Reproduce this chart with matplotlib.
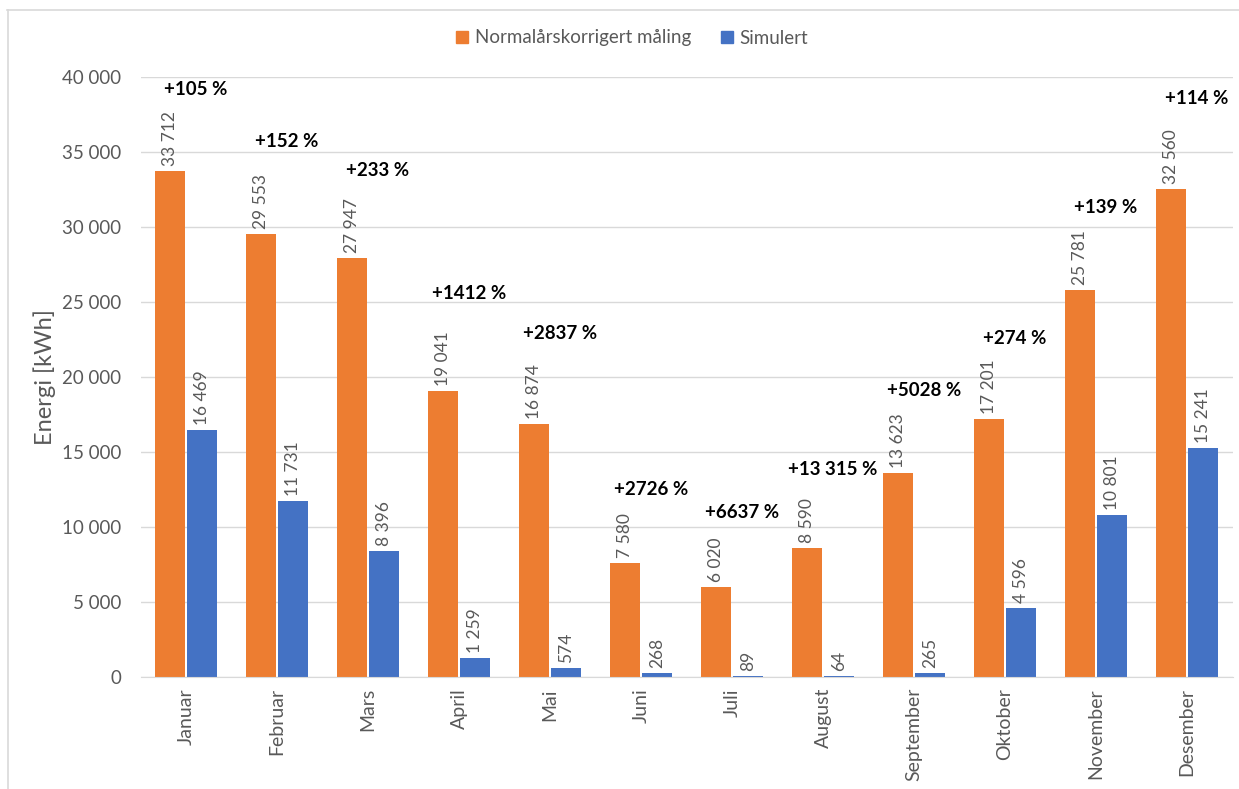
import matplotlib
matplotlib.use("Agg")
import matplotlib.pyplot as plt
import numpy as np
from matplotlib.lines import Line2D
from matplotlib.ticker import FuncFormatter

months = ["Januar", "Februar", "Mars", "April", "Mai", "Juni", "Juli",
          "August", "September", "Oktober", "November", "Desember"]
measured = [33712, 29553, 27947, 19041, 16874, 7580, 6020, 8590, 13623, 17201, 25781, 32560]
simulated = [16469, 11731, 8396, 1259, 574, 268, 89, 64, 265, 4596, 10801, 15241]
pct_labels = ["+105 %", "+152 %", "+233 %", "+1412 %", "+2837 %", "+2726 %",
              "+6637 %", "+13 315 %", "+5028 %", "+274 %", "+139 %", "+114 %"]
# vertical pixel offset of the percent labels above the orange bar tops (layout)
pct_offset_px = [82, 92, 87, 98, 90, 74, 74, 79, 82, 80, 83, 90]

ORANGE = "#ED7D31"
BLUE = "#4472C4"
GREY = "#595959"
FONT = ["Lato", "DejaVu Sans"]
plt.rcParams["font.family"] = FONT

W, H = 1239, 789
fig = plt.figure(figsize=(W / 100, H / 100), dpi=100)
ax = fig.add_axes([140.5 / W, 1 - 677 / H, (1232.5 - 140.5) / W, (677 - 77) / H])

x = np.arange(len(months))
bw = 0.33
off = 0.175
ax.bar(x - off, measured, bw, color=ORANGE, linewidth=0, zorder=3)
ax.bar(x + off, simulated, bw, color=BLUE, linewidth=0, zorder=3)

def fmt(v):
    return f"{v:,}".replace(",", " ")

for i in range(len(months)):
    ax.annotate(fmt(measured[i]), (x[i] - off, measured[i]), xytext=(0, 5),
                textcoords="offset pixels", rotation=90, ha="center", va="bottom",
                fontsize=12.5, color=GREY)
    ax.annotate(fmt(simulated[i]), (x[i] + off, simulated[i]), xytext=(0, 5),
                textcoords="offset pixels", rotation=90, ha="center", va="bottom",
                fontsize=12.5, color=GREY)
    ax.annotate(pct_labels[i], (x[i], measured[i]), xytext=(10, pct_offset_px[i]),
                textcoords="offset pixels", ha="center", va="center",
                fontsize=13.5, fontweight="bold", color="black")

ax.set_xlim(-0.5, len(months) - 0.5)
ax.set_ylim(0, 40000)
ax.set_yticks(np.arange(0, 40001, 5000))
ax.yaxis.set_major_formatter(FuncFormatter(lambda v, p: fmt(int(v))))
ax.set_xticks(x)
ax.set_xticklabels(months, rotation=90, fontsize=14, color=GREY)
ax.tick_params(axis="y", labelsize=13.5, colors=GREY, length=0, pad=14)
ax.tick_params(axis="x", length=0, pad=8)
ax.grid(axis="y", color="#D9D9D9", linewidth=1, zorder=0)
for s in ["top", "right", "left"]:
    ax.spines[s].set_visible(False)
ax.spines["bottom"].set_color("#D9D9D9")
ax.spines["bottom"].set_zorder(4)

ax.set_ylabel("Energi [kWh]", fontsize=17, color=GREY)
ax.yaxis.set_label_coords((56 - 140.5) / 1092, 0.5)

handles = [Line2D([], [], marker="s", linestyle="none", markersize=9, color=ORANGE),
           Line2D([], [], marker="s", linestyle="none", markersize=9, color=BLUE)]
fig.legend(handles, ["Normalårskorrigert måling", "Simulert"], loc="center",
           bbox_to_anchor=(632 / W, 1 - 38 / H), ncol=2, frameon=False,
           fontsize=13.5, labelcolor=GREY, handlelength=0.7, handletextpad=0.3,
           columnspacing=1.6)

# light frame (top and left edges visible)
fig.add_artist(Line2D([7 / W, 1], [1 - 10 / H, 1 - 10 / H], color="#D9D9D9", lw=1.2))
fig.add_artist(Line2D([7.5 / W, 7.5 / W], [0, 1 - 10 / H], color="#D9D9D9", lw=1.2))

fig.savefig("out.png", dpi=100)
